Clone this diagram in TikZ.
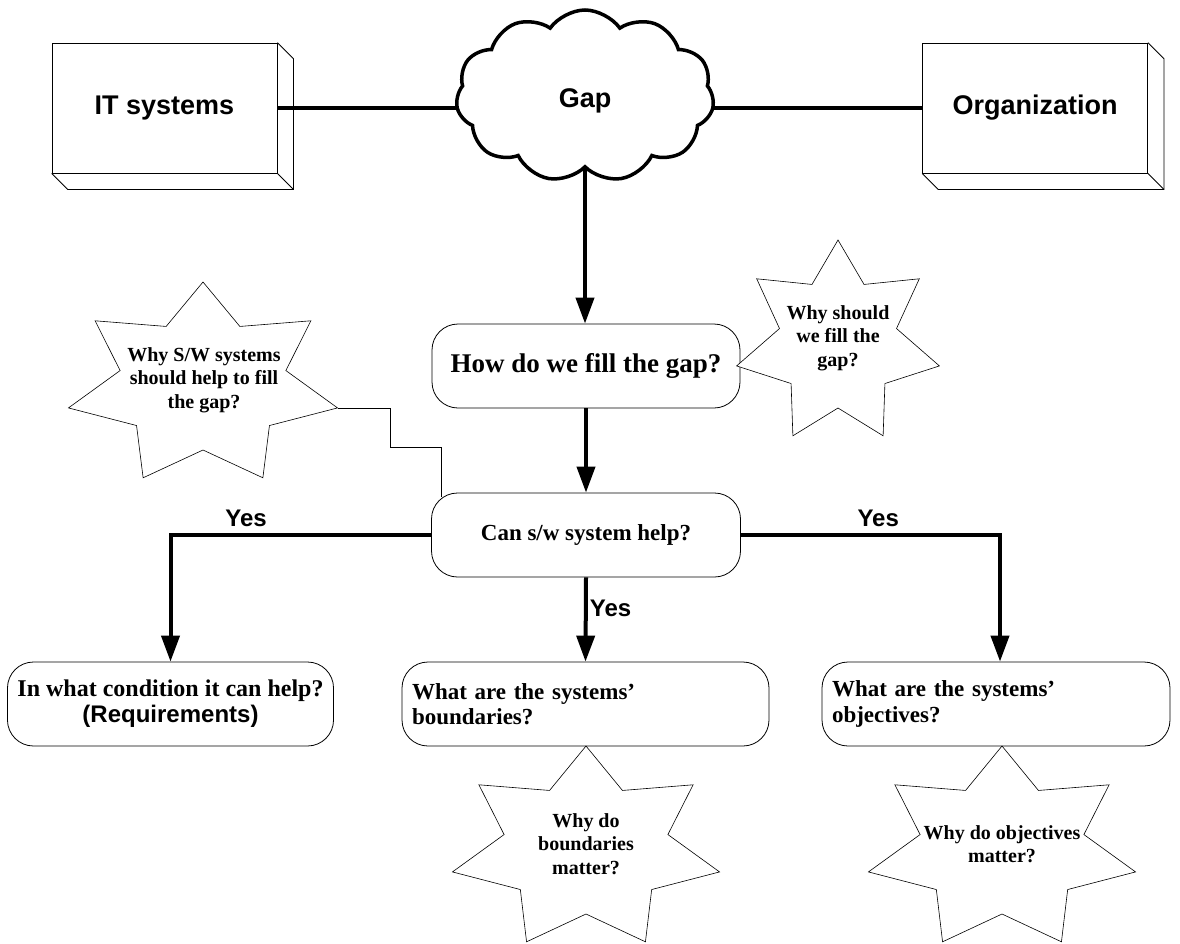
\documentclass[tikz,border=0pt]{standalone}
\usepackage{fontspec}
\setmainfont{Liberation Serif}
\setsansfont{Liberation Sans}
\usetikzlibrary{arrows.meta,calc,shapes.symbols,positioning}

% seven-pointed burst: centre, rx, ry, inner rx, inner ry
\newcommand{\burst}[5]{%
  \draw[burstline, shift={(#1)}] plot[samples at={0,...,13}, variable=\k]
    ({ifthenelse(mod(\k,2)==0,#2,#4)*cos(90+\k*180/7)},
     {-ifthenelse(mod(\k,2)==0,#3,#5)*sin(90+\k*180/7)}) -- cycle;
}

\tikzset{
  block3d/.style={draw, line width=0.8pt, fill=white, minimum width=225pt,
    minimum height=130pt, inner sep=0pt,
    font=\sffamily\bfseries\fontsize{27}{32}\selectfont},
  gapcloud/.style={cloud, cloud puffs=11, cloud puff arc=110, draw, line width=3.5pt,
    fill=white, minimum width=258pt, minimum height=172pt, text height=28pt,
    font=\sffamily\bfseries\fontsize{27}{32}\selectfont},
  question/.style={draw, line width=0.8pt, rounded corners=26pt, fill=white,
    minimum height=84pt, inner ysep=0pt, inner xsep=10pt,
    font=\bfseries\fontsize{23}{25.5}\selectfont},
  whytext/.style={font=\bfseries\fontsize{20}{23.5}\selectfont, align=center},
  burstline/.style={line width=0.6pt, fill=white},
  link/.style={line width=4pt},
  flow/.style={line width=4pt, -{Triangle[width=18pt,length=26pt]}},
  yes/.style={font=\sffamily\bfseries\fontsize{24}{28}\selectfont, inner sep=2pt},
}

\begin{document}
\begin{tikzpicture}[x=1pt, y=-1pt]
  \useasboundingbox (0,0) rectangle (1180,943);

  % top row
  \node[block3d] (it) at (164.5,108) {IT systems};
  \node[block3d] (org) at (1035,108) {Organization};
  \foreach \b in {it,org} {
    \draw[line width=0.8pt] (\b.north east) -- ++(16,16)
      -- ($(\b.south east)+(16,16)$) -- ($(\b.south west)+(16,16)$) -- (\b.south west);
    \draw[line width=0.8pt] (\b.south east) -- ++(16,16);
  }
  \node[gapcloud] (gap) at (585,96) {Gap};
  \draw[link] (it.east) -- (it.east -| gap.west);
  \draw[link] (org.west -| gap.east) -- (org.west);

  % questions
  \node[question, minimum width=308pt, font=\bfseries\fontsize{27}{30}\selectfont] (how) at (586,366) {How do we fill the gap?};
  \node[question, minimum width=309pt] (can) at (586,535) {Can s/w system help?};
  \node[question, minimum width=325pt, align=center, font=\bfseries\fontsize{24}{26}\selectfont] (cond) at (170.5,704)
    {In what condition it can help?\\{\sffamily (Requirements)}};
  \node[question, text width=347pt, align=left] (bound) at (585.5,704)
    {What are the systems'\\boundaries?};
  \node[question, text width=328pt, align=left] (obj) at (996,704)
    {What are the systems'\\objectives?};

  \draw[flow] (gap.south) -- (gap.south |- how.north);
  \draw[flow] (how.south) -- (can.north);
  \draw[flow] (can.south) -- node[yes, right, pos=0.37] {Yes} (bound.north);
  \draw[flow] (can.west) -- node[yes, above=4pt, pos=0.71] {Yes} (can.west -| cond.north) -- (cond.north);
  \draw[flow] (can.east) -- node[yes, above=4pt, pos=0.53] {Yes} (can.east -| 1000,0) -- ([xshift=4pt]obj.north);

  % bursts
  \coordinate (swc) at (203,385);
  \coordinate (fillc) at (838,343);
  \coordinate (bndc) at (586,849);
  \coordinate (objc) at (1002,849);
  \burst{swc}{138}{103}{85}{65}
  \burst{fillc}{104}{103}{60}{65}
  \burst{bndc}{137}{103}{84}{65}
  \burst{objc}{137}{103}{84}{65}
  \node[whytext] (whysw) at (204,380) {Why S/W systems\\should help to fill\\the gap?};
  \node[whytext] (whyfill) at (838,338) {Why should\\we fill the\\gap?};
  \node[whytext] (whybnd) at (586,844) {Why do\\boundaries\\matter?};
  \node[whytext] (whyobj) at (1002,844) {Why do objectives\\matter?};

  \coordinate (swtip) at ($(swc)+(134.5,23)$);
  \draw[line width=0.8pt] (swtip) -- ++(53,0) -- ++(0,39) -| ($(can.north west)+(10,4)$);
\end{tikzpicture}
\end{document}
